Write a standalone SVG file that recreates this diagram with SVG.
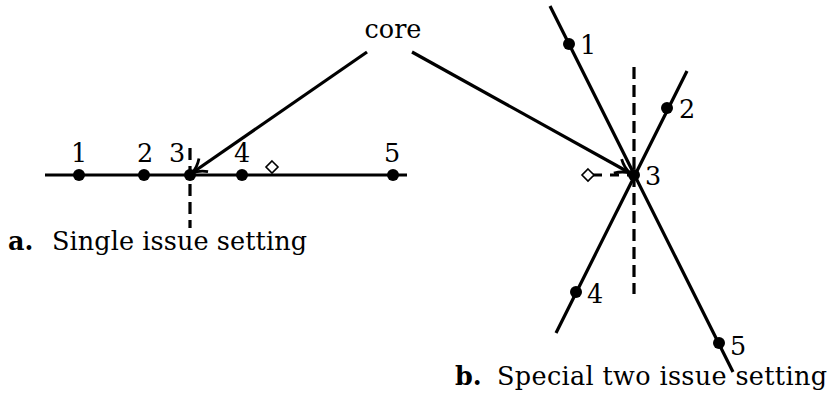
<svg xmlns="http://www.w3.org/2000/svg" width="830" height="396" viewBox="0 0 830 396">
<defs>
<style>
.ln{stroke:#000;stroke-width:3.2;fill:none;stroke-linecap:butt}
.dash{stroke:#000;stroke-width:3.2;fill:none;stroke-dasharray:12 6}
.dot{fill:#000}
.dia{fill:#fff;stroke:#000;stroke-width:1.6}
.t{font-family:"DejaVu Serif","Liberation Serif",serif;font-size:25.5px;fill:#000}
.b{font-weight:bold}
</style>
<marker id="arr" viewBox="0 0 20 20" refX="18" refY="10" markerWidth="20" markerHeight="20" markerUnits="userSpaceOnUse" orient="auto">
<path d="M4,2 Q10,8 18,10 Q10,12 4,18" fill="none" stroke="#000" stroke-width="2.8"/>
</marker>
</defs>
<rect width="830" height="396" fill="#fff"/>
<g id="core"><text class="t" x="393" y="38" text-anchor="middle">core</text></g>
<g id="connectors">
<line class="ln" x1="367" y1="52" x2="192" y2="173" marker-end="url(#arr)"/>
<line class="ln" x1="412" y1="52" x2="630" y2="173" marker-end="url(#arr)"/>
</g>
<g id="single-issue">
<line class="ln" x1="45" y1="175" x2="407" y2="175"/>
<line class="dash" x1="190" y1="148" x2="190" y2="228"/>
<circle class="dot" cx="79" cy="175" r="6"/>
<circle class="dot" cx="144" cy="175" r="6"/>
<circle class="dot" cx="190" cy="175" r="6"/>
<circle class="dot" cx="242" cy="175" r="6"/>
<circle class="dot" cx="393" cy="175" r="6"/>
<path class="dia" d="M272,161 L278,167 L272,173 L266,167 Z"/>
<text class="t" x="79" y="162" text-anchor="middle">1</text>
<text class="t" x="145" y="162" text-anchor="middle">2</text>
<text class="t" x="177" y="162" text-anchor="middle">3</text>
<text class="t" x="242" y="162" text-anchor="middle">4</text>
<text class="t" x="392" y="162" text-anchor="middle">5</text>
<text class="t" x="8" y="250"><tspan class="b">a.</tspan> <tspan x="52" textLength="255" lengthAdjust="spacing">Single issue setting</tspan></text>
</g>
<g id="two-issue">
<line class="ln" x1="550" y1="6" x2="733" y2="372"/>
<line class="ln" x1="687" y1="71" x2="556" y2="333"/>
<line class="dash" x1="634" y1="67" x2="634" y2="294"/>
<line class="dash" x1="593" y1="175" x2="632" y2="175" style="stroke-dasharray:9 8"/>
<circle class="dot" cx="569" cy="44" r="6"/>
<circle class="dot" cx="667" cy="108" r="6"/>
<circle class="dot" cx="634" cy="175" r="6"/>
<circle class="dot" cx="576" cy="292" r="6"/>
<circle class="dot" cx="719" cy="343" r="6"/>
<path class="dia" d="M588,169 L594,175 L588,181 L582,175 Z"/>
<text class="t" x="588" y="54" text-anchor="middle">1</text>
<text class="t" x="687" y="118" text-anchor="middle">2</text>
<text class="t" x="653" y="185" text-anchor="middle">3</text>
<text class="t" x="595" y="303" text-anchor="middle">4</text>
<text class="t" x="738" y="355" text-anchor="middle">5</text>
<text class="t" x="455" y="385"><tspan class="b">b.</tspan> <tspan x="497" textLength="330" lengthAdjust="spacing">Special two issue setting</tspan></text>
</g>
</svg>
